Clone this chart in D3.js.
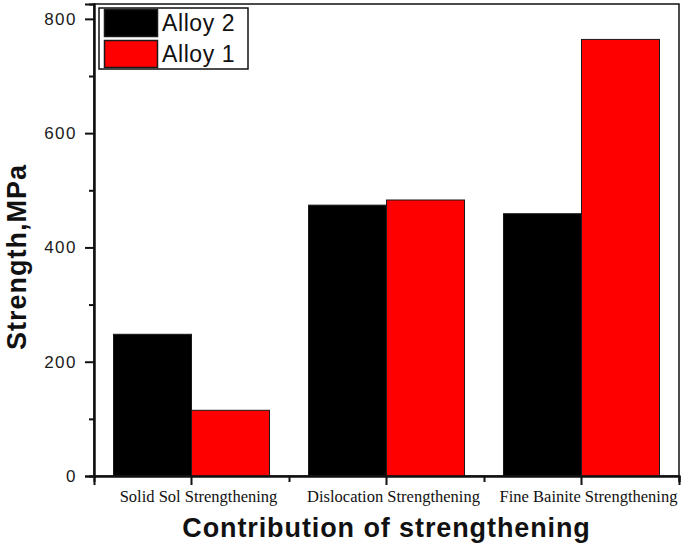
<!DOCTYPE html>
<meta charset="utf-8">
<style>
    body { margin: 0; background: #fff; }
    #chart { display: block; }
    .tick text { font-family: "Liberation Sans", Arial, sans-serif; }
    .cat text { font-family: "Liberation Serif", "Times New Roman", serif; }
</style>
<svg id="chart" width="685" height="545"></svg>
<script src="https://d3js.org/d3.v7.min.js"></script>
<script>

    // data
    var categories = ["Solid Sol Strengthening", "Dislocation Strengthening", "Fine Bainite Strengthening"];
    var seriesNames = ["Alloy 2", "Alloy 1"];
    var alloy2 = [248, 474, 459];
    var alloy1 = [115, 483, 764];
    var yMajorTicks = [0, 200, 400, 600, 800];
    var yMinorTicks = [100, 300, 500, 700];

    var colors = { "Alloy 2": "#000000", "Alloy 1": "#ff0000" };

    var svg = d3.select("#chart"),
        margin = {top: 4, right: 6, bottom: 69, left: 94},
        width = +svg.attr("width") - margin.left - margin.right,
        height = +svg.attr("height") - margin.top - margin.bottom;

    var g = svg.append("g")
        .attr("transform", "translate(" + margin.left + "," + margin.top + ")");

    var x = d3.scaleBand().domain(categories)
        .range([0, width])
        .paddingInner(0.2)
        .paddingOuter(0.1);

    var xs = d3.scaleBand().domain(seriesNames).range([0, x.bandwidth()]);

    var xEdge = d3.scaleLinear().domain([0, categories.length]).range([0, width]);

    var y = d3.scaleLinear().domain([0, 826]).range([height, 0]);

    var rows = categories.map(function(c, i) {
        return {cat: c, values: [
            {name: "Alloy 2", value: alloy2[i]},
            {name: "Alloy 1", value: alloy1[i]}
        ]};
    });

    // frame
    g.append("rect")
        .attr("width", width)
        .attr("height", height)
        .attr("fill", "none")
        .attr("stroke", "#111")
        .attr("stroke-width", 1.5);

    // bars
    g.append("g").selectAll("g")
        .data(rows)
        .enter().append("g")
        .attr("transform", function(d) { return "translate(" + x(d.cat) + ",0)"; })
        .selectAll("rect")
        .data(function(d) { return d.values; })
        .enter().append("rect")
        .attr("x", function(d) { return xs(d.name); })
        .attr("y", function(d) { return y(d.value); })
        .attr("width", xs.bandwidth())
        .attr("height", function(d) { return height - y(d.value); })
        .attr("fill", function(d) { return colors[d.name]; })
        .attr("stroke", "#1a1a1a")
        .attr("stroke-width", 1);

    // y axis
    var yAxis = g.append("g")
        .call(d3.axisLeft(y).tickValues(yMajorTicks).tickSize(9).tickPadding(8));
    yAxis.selectAll("text")
        .style("font-size", "17px")
        .style("letter-spacing", "1.5px")
        .attr("fill", "#1a1a1a");
    g.append("g")
        .call(d3.axisLeft(y).tickValues(yMinorTicks).tickSize(5).tickFormat(""));

    // x axis
    var xAxis = g.append("g")
        .attr("class", "cat")
        .attr("transform", "translate(0," + height + ")")
        .call(d3.axisBottom(x).tickSize(9).tickPadding(5));
    xAxis.selectAll("text")
        .attr("dx", 7)
        .style("font-size", "16.5px")
        .attr("fill", "#111");
    g.append("g")
        .attr("transform", "translate(0," + height + ")")
        .call(d3.axisBottom(xEdge).tickValues([1, 2, 3]).tickSize(6).tickFormat(""));

    g.selectAll(".domain").attr("stroke", "#111").attr("stroke-width", 2);
    g.selectAll(".tick line").attr("stroke", "#111").attr("stroke-width", 2);

    // axis titles
    svg.append("text")
        .attr("x", margin.left + width / 2)
        .attr("y", 537)
        .attr("text-anchor", "middle")
        .style("font-family", '"Liberation Sans", Arial, sans-serif')
        .style("font-weight", "bold")
        .style("font-size", "27px")
        .style("letter-spacing", "0.9px")
        .attr("fill", "#111")
        .text("Contribution of strengthening");

    svg.append("text")
        .attr("transform", "translate(26," + 257 + ") rotate(-90)")
        .attr("text-anchor", "middle")
        .style("font-family", '"Liberation Sans", Arial, sans-serif')
        .style("font-weight", "bold")
        .style("font-size", "27px")
        .style("letter-spacing", "1px")
        .attr("fill", "#111")
        .text("Strength,MPa");

    // legend
    var legend = svg.append("g").attr("transform", "translate(99,8)");
    legend.append("rect")
        .attr("width", 149).attr("height", 61)
        .attr("fill", "#fff")
        .attr("stroke", "#111")
        .attr("stroke-width", 1.5);
    var li = legend.selectAll("g.item")
        .data(seriesNames)
        .enter().append("g")
        .attr("class", "item")
        .attr("transform", function(d, i) { return "translate(0," + (i * 31) + ")"; });
    li.append("rect")
        .attr("x", 5.5).attr("y", 1.5)
        .attr("width", 53).attr("height", 27)
        .attr("fill", function(d) { return colors[d]; })
        .attr("stroke", "#1a1a1a")
        .attr("stroke-width", 1.5);
    li.append("text")
        .attr("x", 63).attr("y", 23)
        .style("font-family", '"Liberation Sans", Arial, sans-serif')
        .style("font-size", "23px")
        .style("letter-spacing", "0.6px")
        .attr("fill", "#111")
        .text(function(d) { return d; });

</script>
